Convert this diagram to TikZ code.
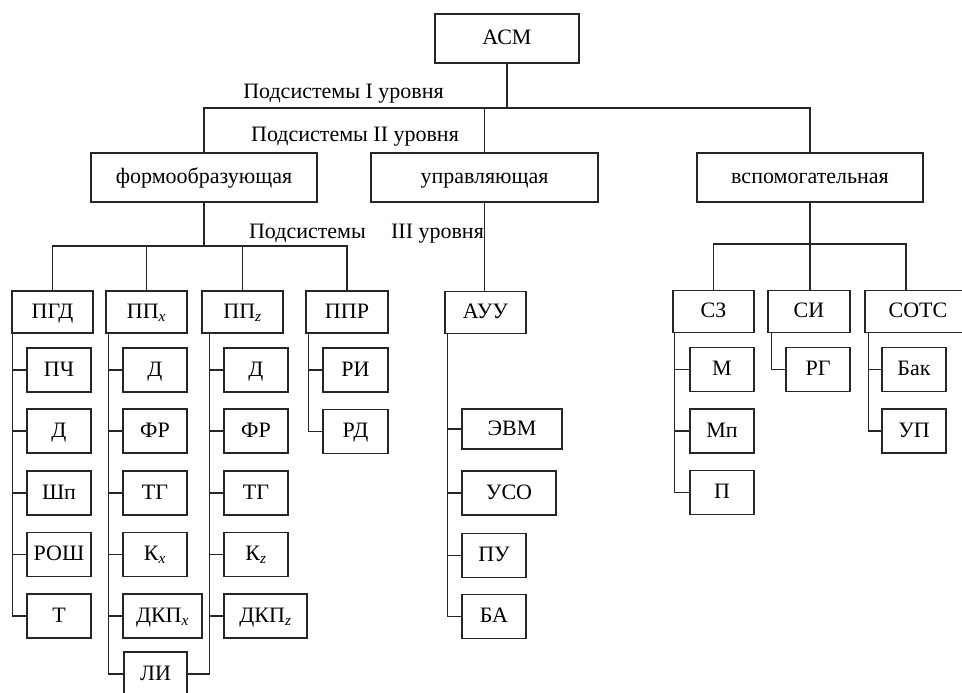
\documentclass[tikz,border=0pt]{standalone}
\usepackage{fontspec}
\setmainfont{Liberation Serif}
\begin{document}
\begin{tikzpicture}[x=1pt,y=-1pt,
		blok/.style={draw=black!85,line width=1.2pt,minimum width=64pt,minimum height=44pt,inner sep=0pt,text height=17pt,text depth=5pt,font=\fontsize{22}{26}\selectfont},
		podp/.style={inner sep=0pt,text height=17pt,text depth=5pt,font=\fontsize{22}{26}\selectfont},
		svyaz/.style={draw=black!85,line width=1.2pt}]
		\useasboundingbox (0,0) rectangle (962,693);
		\coordinate (s1) at (0,108);
		\coordinate (s3) at (0,246);
		% verkhnie urovni
		\node[blok,minimum width=144pt,minimum height=49pt] (asm) at (507,38.5) {АСМ};
		\node[blok,minimum width=226pt,minimum height=49pt] (form) at (204,177.5) {формообразующая};
		\node[blok,minimum width=227pt,minimum height=49pt] (upr) at (484.5,177.5) {управляющая};
		\node[blok,minimum width=226pt,minimum height=49pt] (vsp) at (810,177.5) {вспомогательная};
		\node[podp] (ur1) at (343.5,93) {Подсистемы I уровня};
		\node[podp] (ur2) at (355,136) {Подсистемы II уровня};
		\node[podp] (ur3a) at (307.5,232) {Подсистемы};
		\node[podp] (ur3b) at (437.5,232) {III уровня};
		% podsistemy III urovnya
		\node[blok,minimum width=81pt,minimum height=42pt] (pgd) at (52.5,312) {ПГД};
		\node[blok,minimum width=81pt,minimum height=42pt] (ppx) at (146.5,312) {ПП\textsubscript{\itshape x}};
		\node[blok,minimum width=81pt,minimum height=42pt] (ppz) at (242.5,312) {ПП\textsubscript{\itshape z}};
		\node[blok,minimum width=82pt,minimum height=42pt] (ppr) at (347,312) {ППР};
		\node[blok,minimum width=81pt,minimum height=42pt] (auu) at (485.5,312.5) {АУУ};
		\node[blok,minimum width=81pt,minimum height=42pt] (sz) at (713.5,311.5) {СЗ};
		\node[blok,minimum width=82pt,minimum height=42pt] (si) at (809,311.5) {СИ};
		\node[blok,minimum width=106pt,minimum height=42pt] (sots) at (918,311.5) {СОТС};
		% PGD
		\node[blok] (pch) at (59,370) {ПЧ};
		\node[blok] (d1) at (59,431) {Д};
		\node[blok] (shp) at (59,493) {Шп};
		\node[blok] (rosh) at (59,554.5) {РОШ};
		\node[blok] (t1) at (59,616) {Т};
		% PPx
		\node[blok] (d2) at (155,370) {Д};
		\node[blok] (fr2) at (155,431) {ФР};
		\node[blok] (tg2) at (155,493) {ТГ};
		\node[blok] (kx) at (155,554.5) {К\textsubscript{\itshape x}};
		\node[blok,minimum width=79pt] (dkpx) at (162.5,616) {ДКП\textsubscript{\itshape x}};
		\node[blok,minimum width=63pt] (li) at (155.5,674) {ЛИ};
		% PPz
		\node[blok] (d3) at (256,370) {Д};
		\node[blok] (fr3) at (256,431) {ФР};
		\node[blok] (tg3) at (256,493) {ТГ};
		\node[blok] (kz) at (256,554.5) {К\textsubscript{\itshape z}};
		\node[blok,minimum width=83pt] (dkpz) at (265.5,616) {ДКП\textsubscript{\itshape z}};
		% PPR
		\node[blok,minimum width=65pt] (ri) at (355.5,370) {РИ};
		\node[blok,minimum width=65pt] (rd) at (355.5,431.5) {РД};
		% AUU
		\node[blok,minimum width=100pt,minimum height=40pt] (evm) at (512,429) {ЭВМ};
		\node[blok,minimum width=94pt] (uso) at (509,493) {УСО};
		\node[blok] (pu) at (494,555.5) {ПУ};
		\node[blok] (ba) at (494,616.5) {БА};
		% SZ, SI, SOTS
		\node[blok] (m) at (722,369.5) {М};
		\node[blok] (mp) at (722,431) {Мп};
		\node[blok] (p) at (722,492.5) {П};
		\node[blok] (rg) at (818,369.5) {РГ};
		\node[blok] (bak) at (914,369.5) {Бак};
		\node[blok] (up) at (914,431) {УП};
		% svyazi
		\draw[svyaz] (asm.south) -- (asm.south |- s1);
		\draw[svyaz] (form.north) |- (vsp.north |- s1) -- (vsp.north);
		\draw[svyaz] (upr.north) -- (upr.north |- s1);
		\draw[svyaz] (form.south) -- (form.south |- s3);
		\draw[svyaz] (pgd.north) |- (ppr.north |- s3) -- (ppr.north);
		\draw[svyaz] (ppx.north) -- (ppx.north |- s3);
		\draw[svyaz] (ppz.north) -- (ppz.north |- s3);
		\draw[svyaz] (upr.south) -- (upr.south |- auu.north);
		\draw[svyaz] (vsp.south) -- (vsp.south |- si.north);
		\draw[svyaz] (sz.north) -- ++(0,-46) -| ([xshift=-12pt]sots.north);
		\foreach \c in {pch,d1,shp,rosh,t1}
			\draw[svyaz] ([xshift=1pt]pgd.south west) |- (\c.west);
		\foreach \c in {d2,fr2,tg2,kx,dkpx,li}
			\draw[svyaz] ([xshift=3pt]ppx.south west) |- (\c.west);
		\foreach \c in {d3,fr3,tg3,kz,dkpz}
			\draw[svyaz] ([xshift=8pt]ppz.south west) |- (\c.west);
		\draw[svyaz] ([xshift=8pt]ppz.south west) |- (li.east);
		\foreach \c in {ri,rd}
			\draw[svyaz] ([xshift=3pt]ppr.south west) |- (\c.west);
		\foreach \c in {evm,uso,pu,ba}
			\draw[svyaz] ([xshift=3pt]auu.south west) |- (\c.west);
		\foreach \c in {m,mp,p}
			\draw[svyaz] ([xshift=2pt]sz.south west) |- (\c.west);
		\draw[svyaz] ([xshift=4pt]si.south west) |- (rg.west);
		\foreach \c in {bak,up}
			\draw[svyaz] ([xshift=4pt]sots.south west) |- (\c.west);
		\end{tikzpicture}
\end{document}
